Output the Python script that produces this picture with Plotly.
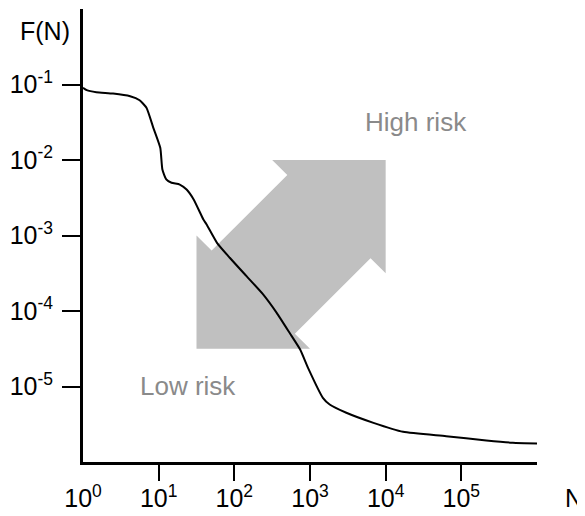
import numpy as np
import plotly.graph_objects as go

# ---- data ----
N_curve = [1, 1.12, 1.5, 2.5, 4.2, 5.6, 6.9, 8.5, 10.5, 11.2, 12.6, 14.8, 19, 23.4, 29,
           39, 43, 59, 87, 145, 240, 363, 537, 741, 955, 1480, 1820, 3020, 6900,
           17000, 63000, 214000, 479000, 1000000]
F_curve = [0.0904, 0.0841, 0.0791, 0.0760, 0.0700, 0.0619, 0.0491, 0.0267, 0.0145,
           0.00748, 0.00552, 0.00499, 0.00473, 0.00406, 0.00300, 0.00163, 0.00140,
           0.000800, 0.000507, 0.000289, 0.000166, 9.46e-5, 5.14e-5, 3.09e-5, 1.71e-5,
           7.08e-6, 5.78e-6, 4.49e-6, 3.30e-6, 2.51e-6, 2.20e-6, 1.93e-6, 1.80e-6, 1.76e-6]

# double-headed arrow outline (decade exponents of N and F)
arrow_logN = [2.5, 4.0, 4.0, 3.8, 2.8, 3.0, 1.5, 1.5, 1.7, 2.7, 2.5]
arrow_logF = [-2.0, -2.0, -3.5, -3.3, -4.3, -4.5, -4.5, -3.0, -3.2, -2.2, -2.0]

x_tickvals = [1, 10, 100, 1000, 10000, 100000]
x_ticktext = ["10<sup>0</sup>", "10<sup>1</sup>", "10<sup>2</sup>", "10<sup>3</sup>",
              "10<sup>4</sup>", "10<sup>5</sup>"]
x_tickmarks = [10, 100, 1000, 10000, 100000]
y_tickvals = [1e-1, 1e-2, 1e-3, 1e-4, 1e-5]
y_ticktext = ["10<sup>-1</sup>", "10<sup>-2</sup>", "10<sup>-3</sup>", "10<sup>-4</sup>",
              "10<sup>-5</sup>"]

labels_text = ["High risk", "Low risk"]
labels_N = [10 ** 4.40, 10 ** 1.387]
labels_F = [10 ** -1.49, 10 ** -4.99]

FONT = "Liberation Sans, Arial, Helvetica, sans-serif"
FS = 25
FS_ANN = 26
GRAY_TEXT = "#8a8a8a"

fig = go.Figure()

fig.add_trace(go.Scatter(
    x=[10 ** v for v in arrow_logN], y=[10 ** v for v in arrow_logF],
    mode="lines", fill="toself", fillcolor="#c0c0c0",
    line=dict(width=0, color="#c0c0c0"), hoverinfo="skip", showlegend=False,
    xaxis="x", yaxis="y"))

fig.add_trace(go.Scatter(
    x=N_curve, y=F_curve, mode="lines",
    line=dict(color="black", width=2, shape="spline", smoothing=0.5),
    showlegend=False, xaxis="x2", yaxis="y"))

for t, xv, yv in zip(labels_text, labels_N, labels_F):
    fig.add_annotation(x=np.log10(xv), y=np.log10(yv), xref="x", yref="y", text=t,
                       showarrow=False, xanchor="center", yanchor="middle",
                       font=dict(family=FONT, size=FS_ANN, color=GRAY_TEXT))

fig.add_annotation(x=-0.0837, y=0.951, xref="paper", yref="paper", text="F(N)",
                   showarrow=False, xanchor="center", yanchor="middle",
                   font=dict(family=FONT, size=FS, color="black"))
fig.add_annotation(x=1.081, y=-0.08, xref="paper", yref="paper", text="N",
                   showarrow=False, xanchor="center", yanchor="middle",
                   font=dict(family=FONT, size=FS, color="black"))

# the page body adds an 8px offset; margins compensate so the plot lands where the reference has it
fig.update_layout(
    width=585, height=516,
    margin=dict(l=75, r=56, t=1, b=62),
    paper_bgcolor="white", plot_bgcolor="white",
    font=dict(family=FONT, size=FS, color="black"),
    xaxis=dict(type="log", range=[0, 6], tickmode="array", tickvals=x_tickvals,
               ticktext=x_ticktext, ticks="outside", ticklen=12, tickwidth=2,
               tickcolor="rgba(0,0,0,0)", showline=True, linewidth=3, linecolor="black",
               showgrid=False, zeroline=False, tickfont=dict(size=FS), automargin=False),
    xaxis2=dict(type="log", range=[0, 6], overlaying="x", anchor="y", side="bottom",
                tickmode="array", tickvals=x_tickmarks, ticks="outside", ticklen=18,
                tickwidth=2, tickcolor="black", showticklabels=False, showline=False,
                showgrid=False, zeroline=False, automargin=False),
    yaxis=dict(type="log", range=[-6, 0], tickmode="array", tickvals=y_tickvals,
               ticktext=y_ticktext, ticks="outside", ticklen=18, tickwidth=2,
               tickcolor="black", showline=True, linewidth=3, linecolor="black",
               showgrid=False, zeroline=False, tickfont=dict(size=FS),
               ticklabelstandoff=4, automargin=False),
)

fig.write_html("out.html")
